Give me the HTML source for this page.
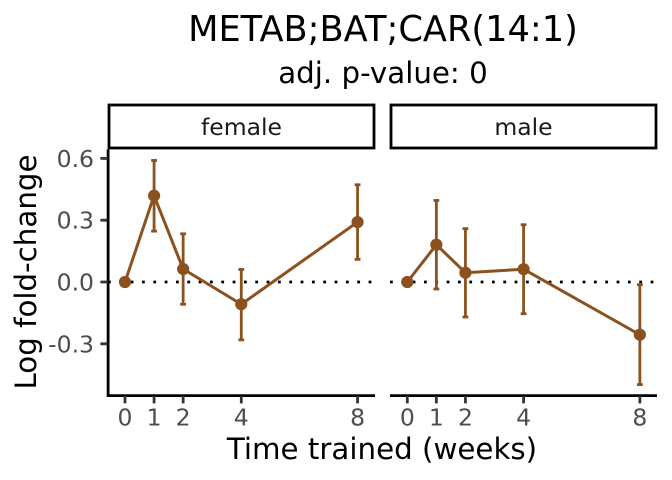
<!DOCTYPE html>
<html>
<head>
<meta charset="utf-8">
<style>
html,body{margin:0;padding:0;background:#fff;}
svg{display:block;font-family:"DejaVu Sans","Liberation Sans",sans-serif;}
</style>
</head>
<body>
<svg id="chart" xmlns="http://www.w3.org/2000/svg" width="672" height="480" viewBox="0 0 672 480">
<rect x="0" y="0" width="672" height="480" fill="#fff"/>
<text x="383" y="41" font-size="35.2" text-anchor="middle" fill="#000">METAB;BAT;CAR(14:1)</text>
<text x="383" y="83" font-size="29.3" text-anchor="middle" fill="#000">adj. p-value: 0</text>
<rect x="109" y="105" width="265" height="43" fill="#fff" stroke="#000" stroke-width="2.8"/>
<text x="241.5" y="135" font-size="23.5" text-anchor="middle" fill="#1a1a1a">female</text>
<rect x="391" y="105" width="265" height="43" fill="#fff" stroke="#000" stroke-width="2.8"/>
<text x="523.5" y="135" font-size="23.5" text-anchor="middle" fill="#1a1a1a">male</text>
<text transform="translate(36,272) rotate(-90)" font-size="29.3" text-anchor="middle" fill="#000">Log fold-change</text>
<text x="382" y="459" font-size="29.3" text-anchor="middle" fill="#000">Time trained (weeks)</text>
<g id="plot"></g>
</svg>
<script>
var weeks = [0, 1, 2, 4, 8];
var yTicks = [0.6, 0.3, 0.0, -0.3];
var yTickLabels = ["0.6", "0.3", "0.0", "-0.3"];
var femaleMean = [0, 0.419, 0.063, -0.108, 0.291];
var femaleUpper = [0, 0.59, 0.234, 0.061, 0.472];
var femaleLower = [0, 0.247, -0.108, -0.281, 0.11];
var maleMean = [0, 0.181, 0.045, 0.062, -0.256];
var maleUpper = [0, 0.396, 0.259, 0.278, -0.013];
var maleLower = [0, -0.034, -0.17, -0.154, -0.498];

var NS = 'http://www.w3.org/2000/svg';
var plot = document.getElementById('plot');
var COLOR = '#8b5220';
function yScale(v) { return 282 - v * 206; }
function make(tag, attrs) {
  var el = document.createElementNS(NS, tag);
  for (var k in attrs) { el.setAttribute(k, attrs[k]); }
  plot.appendChild(el);
  return el;
}
function drawPanel(prefix, x0, left, right, mean, upper, lower, showY) {
  function xScale(w) { return x0 + w * 29.07; }
  var zero = make('line', {x1: left, x2: right, y1: yScale(0), y2: yScale(0), stroke: '#000', 'stroke-width': 2.8, 'stroke-dasharray': '2.8 8.53'});
  
  

  weeks.forEach(function (w, i) {
    if (upper[i] === lower[i]) { return; }
    var x = xScale(w);
    var bar = make('line', {x1: x, x2: x, y1: yScale(upper[i]), y2: yScale(lower[i]), stroke: COLOR, 'stroke-width': 2.8});
    
    
    var capTop = make('line', {x1: x - 2.9, x2: x + 2.9, y1: yScale(upper[i]), y2: yScale(upper[i]), stroke: COLOR, 'stroke-width': 2.8});
    
    
    var capBottom = make('line', {x1: x - 2.9, x2: x + 2.9, y1: yScale(lower[i]), y2: yScale(lower[i]), stroke: COLOR, 'stroke-width': 2.8});
    
    
  });

  var pts = weeks.map(function (w, i) { return xScale(w) + ',' + yScale(mean[i]); }).join(' ');
  var line = make('polyline', {points: pts, fill: 'none', stroke: COLOR, 'stroke-width': 3, 'stroke-linejoin': 'round'});
  
  

  weeks.forEach(function (w, i) {
    var dot = make('circle', {cx: xScale(w), cy: yScale(mean[i]), r: 6.1, fill: COLOR});
    
    
  });

  var xAxis = make('line', {x1: left, x2: right, y1: 395.6, y2: 395.6, stroke: '#000', 'stroke-width': 2.8});
  
  

  weeks.forEach(function (w) {
    var x = xScale(w);
    var tick = make('line', {x1: x, x2: x, y1: 396, y2: 403.4, stroke: '#333', 'stroke-width': 2.8});
    
    
    var label = make('text', {x: x, y: 425.7, 'font-size': 23.5, 'text-anchor': 'middle', fill: '#4d4d4d'});
    label.textContent = String(w);
    
    
  });

  if (showY) {
    var yAxis = make('line', {x1: left + 0.1, x2: left + 0.1, y1: 149.5, y2: 397, stroke: '#000', 'stroke-width': 2.8});
    
    
    yTicks.forEach(function (v, i) {
      var y = yScale(v);
      var tick = make('line', {x1: 100.4, x2: 107.5, y1: y, y2: y, stroke: '#333', 'stroke-width': 2.8});
      
      
      var label = make('text', {x: 94, y: y + 8.5, 'font-size': 23.5, 'text-anchor': 'end', fill: '#4d4d4d'});
      label.textContent = yTickLabels[i];
      
      
    });
  }
}
drawPanel('female', 125, 108, 375, femaleMean, femaleUpper, femaleLower, true);
drawPanel('male', 407.3, 390, 657, maleMean, maleUpper, maleLower, false);
</script>
</body>
</html>
